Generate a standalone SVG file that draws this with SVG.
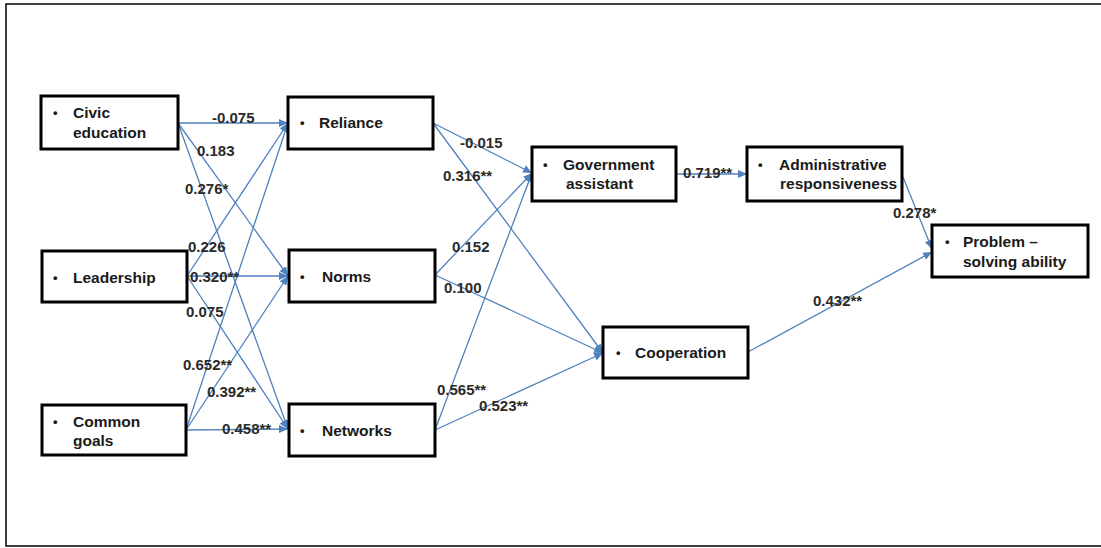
<svg xmlns="http://www.w3.org/2000/svg" width="1101" height="548" viewBox="0 0 1101 548">
<style>
.box{fill:#fff;stroke:#000;stroke-width:3}
.t{font-family:"Liberation Sans",Arial,sans-serif;font-size:15.5px;font-weight:bold;fill:#1a1a1a}
.b{font-family:"Liberation Sans",Arial,sans-serif;font-size:13px;font-weight:bold;fill:#1a1a1a}
.e{stroke:#4f81bd;stroke-width:1.3;fill:none;marker-end:url(#ah)}
.l{font-family:"Liberation Sans",Arial,sans-serif;font-size:15px;font-weight:bold;fill:#2a2a2a}
</style>
<defs>
<marker id="ah" markerUnits="userSpaceOnUse" markerWidth="10" markerHeight="10" refX="9" refY="5" orient="auto">
<path d="M0,1 L9,5 L0,9 Z" fill="#4f81bd"/>
</marker>
</defs>
<rect x="0" y="0" width="1101" height="548" fill="#fff"/>
<rect x="6" y="4" width="1100" height="542" fill="none" stroke="#000" stroke-width="1.5"/>
<g id="connectors">
<line class="e" x1="178" y1="123" x2="288" y2="123"/>
<line class="e" x1="178" y1="123" x2="288" y2="276"/>
<line class="e" x1="178" y1="123" x2="288" y2="429"/>
<line class="e" x1="187" y1="276" x2="288" y2="123"/>
<line class="e" x1="187" y1="276" x2="288" y2="276"/>
<line class="e" x1="187" y1="276" x2="288" y2="429"/>
<line class="e" x1="186" y1="430" x2="288" y2="123"/>
<line class="e" x1="186" y1="430" x2="288" y2="276"/>
<line class="e" x1="186" y1="430" x2="288" y2="429"/>
<line class="e" x1="433" y1="123" x2="532" y2="173"/>
<line class="e" x1="433" y1="123" x2="603" y2="353"/>
<line class="e" x1="435" y1="275" x2="532" y2="173"/>
<line class="e" x1="435" y1="275" x2="603" y2="353"/>
<line class="e" x1="435" y1="430" x2="532" y2="173"/>
<line class="e" x1="435" y1="430" x2="603" y2="353"/>
<line class="e" x1="676" y1="174" x2="747" y2="174"/>
<line class="e" x1="903" y1="177" x2="932" y2="249"/>
<line class="e" x1="748" y1="352" x2="932" y2="252"/>
<text class="l" x="212" y="123">-0.075</text>
<text class="l" x="197" y="156">0.183</text>
<text class="l" x="185" y="194">0.276*</text>
<text class="l" x="188" y="252">0.226</text>
<text class="l" x="190" y="282">0.320**</text>
<text class="l" x="186" y="317">0.075</text>
<text class="l" x="183" y="370">0.652**</text>
<text class="l" x="207" y="397">0.392**</text>
<text class="l" x="222" y="434">0.458**</text>
<text class="l" x="460" y="148">-0.015</text>
<text class="l" x="443" y="181">0.316**</text>
<text class="l" x="452" y="252">0.152</text>
<text class="l" x="444" y="293">0.100</text>
<text class="l" x="437" y="395">0.565**</text>
<text class="l" x="479" y="411">0.523**</text>
<text class="l" x="683" y="178">0.719**</text>
<text class="l" x="893" y="218">0.278*</text>
<text class="l" x="813" y="306">0.432**</text>
</g>
<g id="civic">
<rect class="box" x="41" y="96" width="137" height="53"/>
<text class="b" x="53" y="117">•</text>
<text class="t" x="73" y="118">Civic</text>
<text class="t" x="73" y="138">education</text>
</g>
<g id="leadership">
<rect class="box" x="42" y="251" width="145" height="51"/>
<text class="b" x="53" y="282">•</text>
<text class="t" x="73" y="283">Leadership</text>
</g>
<g id="common">
<rect class="box" x="42" y="405" width="144" height="50"/>
<text class="b" x="53" y="426">•</text>
<text class="t" x="73" y="427">Common</text>
<text class="t" x="73" y="446">goals</text>
</g>
<g id="reliance">
<rect class="box" x="288" y="97" width="145" height="52"/>
<text class="b" x="300" y="127">•</text>
<text class="t" x="319" y="128">Reliance</text>
</g>
<g id="norms">
<rect class="box" x="289" y="250" width="146" height="52"/>
<text class="b" x="300" y="281">•</text>
<text class="t" x="322" y="282">Norms</text>
</g>
<g id="networks">
<rect class="box" x="289" y="404" width="146" height="52"/>
<text class="b" x="300" y="435">•</text>
<text class="t" x="322" y="436">Networks</text>
</g>
<g id="government">
<rect class="box" x="532" y="147" width="144" height="54"/>
<text class="b" x="543" y="169">•</text>
<text class="t" x="563" y="170">Government</text>
<text class="t" x="566" y="189">assistant</text>
</g>
<g id="administrative">
<rect class="box" x="747" y="147" width="155" height="54"/>
<text class="b" x="758" y="169">•</text>
<text class="t" x="779" y="170">Administrative</text>
<text class="t" x="780" y="189">responsiveness</text>
</g>
<g id="problem">
<rect class="box" x="932" y="225" width="156" height="52"/>
<text class="b" x="945" y="246">•</text>
<text class="t" x="963" y="247">Problem –</text>
<text class="t" x="963" y="267">solving ability</text>
</g>
<g id="cooperation">
<rect class="box" x="603" y="327" width="145" height="51"/>
<text class="b" x="616" y="357">•</text>
<text class="t" x="635" y="358">Cooperation</text>
</g>
</svg>
